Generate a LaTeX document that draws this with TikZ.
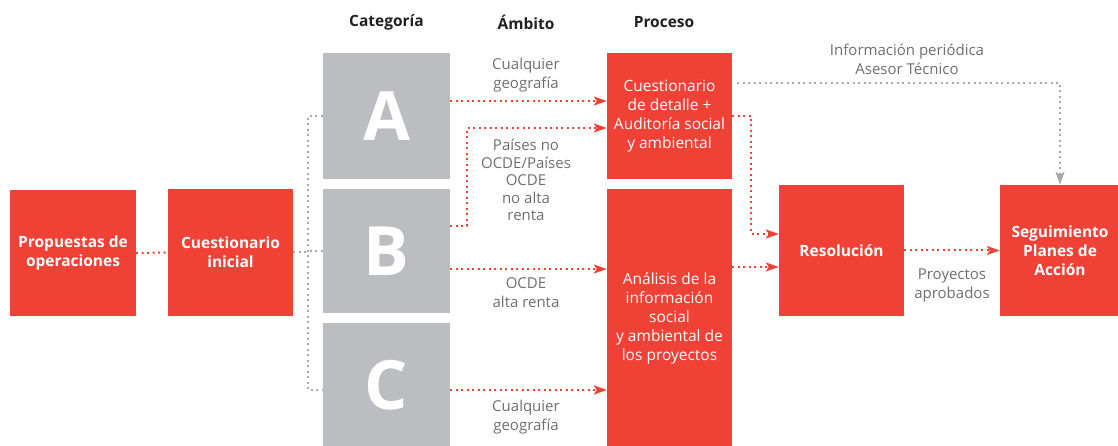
\documentclass[tikz,border=0pt]{standalone}
\usepackage{fontspec}
\setmainfont{Open Sans}
\usetikzlibrary{arrows.meta}
\definecolor{cred}{RGB}{239,65,54}
\definecolor{cgray}{RGB}{188,189,192}
\definecolor{ctext}{RGB}{109,110,113}
\definecolor{cline}{RGB}{167,169,172}
\definecolor{chdr}{RGB}{35,31,32}
\tikzset{
 redbox/.style={fill=cred, draw=none, text=white, align=center, inner sep=0pt, font=\fontsize{15.5}{19}\selectfont},
 boldbox/.style={redbox, font=\fontsize{15.5}{19}\selectfont\bfseries},
 graybox/.style={fill=cgray, text=white, inner sep=0pt, font=\fontsize{68}{68}\selectfont\bfseries, minimum width=127pt},
 lbl/.style={text=ctext, align=center, font=\fontsize{15}{19}\selectfont, inner sep=0pt},
 hdr/.style={text=chdr, font=\fontsize{15.5}{17}\selectfont\bfseries, inner sep=0pt},
 reddot/.style={cred, line width=2pt, dash pattern=on 2pt off 3.5pt},
 graydot/.style={cline, line width=2pt, dash pattern=on 2pt off 3.5pt},
 redarr/.style={reddot, -{Stealth[length=13pt,width=9pt,inset=3pt]}},
 grayarr/.style={graydot, -{Stealth[length=13pt,width=9pt,inset=3pt]}},
}
\begin{document}
\begin{tikzpicture}[x=1pt,y=-1pt]
\useasboundingbox (0,0) rectangle (1118,446);
% boxes
\node[boldbox, minimum width=126pt, minimum height=126pt] (prop) at (73,253) {Propuestas de\\operaciones};
\node[boldbox, minimum width=125pt, minimum height=127pt] (ci) at (230.5,252.5) {Cuestionario\\inicial};
\node[graybox, minimum height=126pt] (A) at (386.5,116) {A};
\node[graybox, minimum height=124pt] (B) at (386.5,251) {B};
\node[graybox, minimum height=124pt] (C) at (386.5,385) {C};
\node[redbox, minimum width=125pt, minimum height=126pt] (det) at (669.5,116) {Cuestionario\\de detalle +\\Auditoría social\\y ambiental};
\node[redbox, minimum width=125pt, minimum height=258pt] (ana) at (669.5,318) {Análisis de la\\información\\social\\y ambiental de\\los proyectos};
\node[boldbox, minimum width=125pt, minimum height=131pt] (res) at (841.5,250.5) {Resolución};
\node[boldbox, minimum width=120pt, minimum height=131pt] (seg) at (1060,250.5) {Seguimiento\\Planes de\\Acción};
% headers and labels
\node[hdr] (hcat) at (386.5,22) {Categoría};
\node[hdr] (hamb) at (526,22) {Ámbito};
\node[hdr] (hpro) at (664,22) {Proceso};
\node[lbl] (l1) at (526,75) {Cualquier\\geografía};
\node[lbl, font=\fontsize{15}{17.5}\selectfont] (l2) at (526,180) {Países no\\OCDE/Países\\OCDE\\no alta\\renta};
\node[lbl] (l3) at (526,293) {OCDE\\alta renta};
\node[lbl] (l4) at (526,417) {Cualquier\\geografía};
\node[lbl] (l5) at (907,59) {Información periódica\\Asesor Técnico};
\node[lbl] (l6) at (952,285) {Proyectos\\aprobados};
% connectors: left part
\draw[reddot] (prop.east) -- (ci.west);
\coordinate (brx) at (308,0);
\coordinate (cw) at ([yshift=-5pt]C.west);
\draw[graydot] (ci.east) -- (ci.east -| brx);
\draw[graydot] (A.west) -- (A.west -| brx) -- (brx |- cw) -- (cw);
\draw[graydot] (B.west) -- (B.west -| brx);
% category to process
\coordinate (a1) at ([yshift=15pt]A.east);
\draw[redarr] (a1) -- (a1 -| det.west);
\coordinate (b1) at ([yshift=25pt]B.east);
\coordinate (d2) at ([yshift=-12pt]det.west);
\draw[redarr] (b1) -- ++(17,0) |- (d2);
\coordinate (b2) at ([yshift=-18pt]B.east);
\draw[redarr] (b2) -- (b2 -| ana.west);
\coordinate (c1) at ([yshift=-5pt]C.east);
\draw[redarr] (c1) -- (c1 -| ana.west);
% process to resolution
\coordinate (r1) at ([yshift=16.5pt]res.west);
\coordinate (r2) at ([yshift=-16.5pt]res.west);
\draw[redarr] (det.east) -- ++(19,0) |- (r1);
\draw[redarr] (r2 -| ana.east) -- (r2);
\draw[redarr] (res.east) -- (seg.west);
% periodic information
\coordinate (g1) at ([yshift=33pt,xshift=5pt]det.east);
\draw[grayarr] (g1) -| (seg.north);
\end{tikzpicture}
\end{document}
